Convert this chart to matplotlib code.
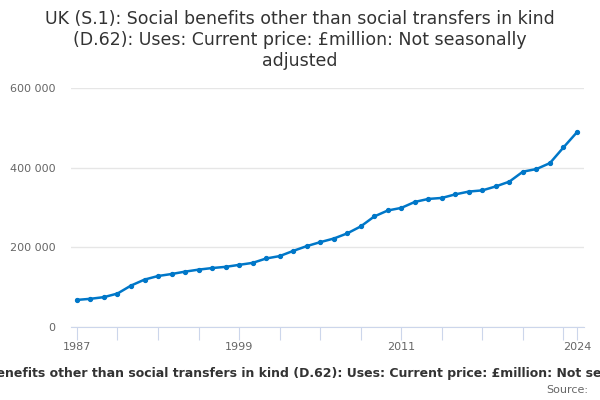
import matplotlib
matplotlib.use("Agg")
import matplotlib.pyplot as plt
from matplotlib.ticker import FuncFormatter

years = list(range(1987, 2025))
values = [68000, 70800, 75000, 84000, 104000, 119000, 128000, 133000, 139000, 144000,
          148000, 151000, 156000, 161000, 172000, 178000, 191000, 203000, 213000, 222000,
          235000, 252500, 277500, 292500, 299000, 314000, 321500, 324000, 333000, 340000,
          343000, 353000, 365000, 390000, 396500, 411500, 450800, 489000]

title = ("UK (S.1): Social benefits other than social transfers in kind\n"
         "(D.62): Uses: Current price: £million: Not seasonally\nadjusted")
xlabel = ("UK (S.1): Social benefits other than social transfers in kind (D.62): "
          "Uses: Current price: £million: Not seasonally adjusted")
label_years = [1987, 1999, 2011, 2024]
tick_years = list(range(1987, 2024, 3)) + [2024]

fig = plt.figure(figsize=(6, 4), dpi=100)
ax = fig.add_axes([71 / 600, 73 / 400, 513 / 600, 239 / 400])

ax.plot(years, values, color="#0077c8", lw=1.8, marker="o", ms=2.8, zorder=3)

ax.set_xlim(1986.56, 2024.52)
ax.set_ylim(0, 600000)
ax.set_yticks([0, 200000, 400000, 600000])
ax.yaxis.set_major_formatter(FuncFormatter(lambda v, p: f"{int(v):,}".replace(",", " ")))
ax.grid(axis="y", color="#e6e6e6", lw=1)
ax.set_axisbelow(True)

ax.set_xticks(tick_years)
ax.set_xticklabels([str(y) if y in label_years else "" for y in tick_years])
ax.tick_params(axis="x", direction="out", length=9, color="#ccd6eb", labelcolor="#666666",
               labelsize=8, pad=2)
ax.tick_params(axis="y", length=0, labelcolor="#666666", labelsize=8, pad=11)

for s in ["top", "right", "left"]:
    ax.spines[s].set_visible(False)
ax.spines["bottom"].set_color("#ccd6eb")

fig.text(0.5, 1 - 40 / 400, title, ha="center", va="center", fontsize=12.5,
         color="#333333", linespacing=1.25)
fig.text(0.5, 1 - 374 / 400, xlabel, ha="center", va="center", fontsize=9,
         fontweight="bold", color="#333333")
fig.text(588 / 600, 1 - 390 / 400, "Source:", ha="right", va="center", fontsize=8,
         color="#666666")

fig.savefig("out.png", dpi=100)
